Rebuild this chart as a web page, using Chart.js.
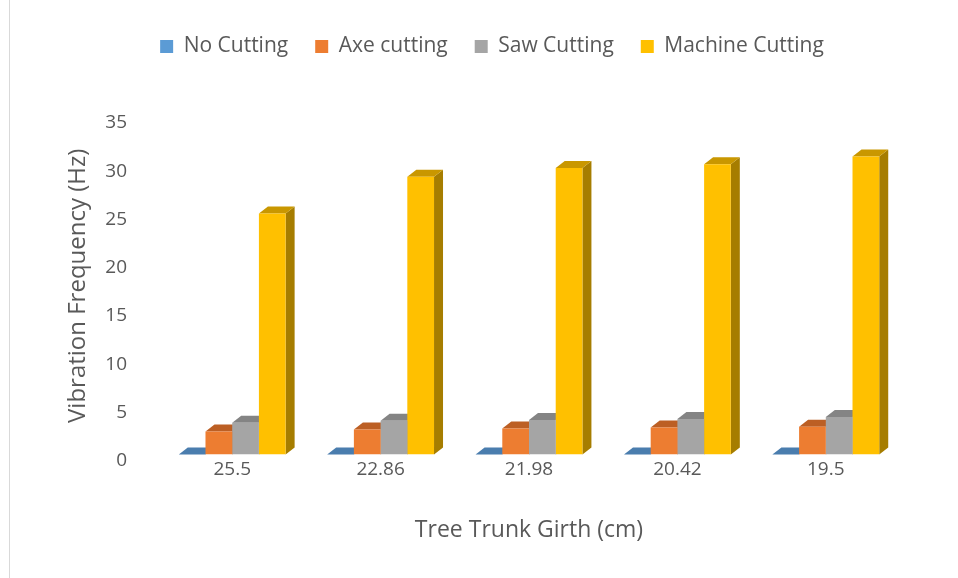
<!DOCTYPE html>
<html>
<head>
<meta charset="utf-8">
<script src="https://cdn.jsdelivr.net/npm/chart.js@4/dist/chart.umd.min.js"></script>
<style>
  html, body { margin: 0; padding: 0; background: #ffffff; }
  #wrap { position: relative; width: 958px; height: 578px; }
</style>
</head>
<body>
<div id="wrap"><canvas id="c" width="958" height="578"></canvas></div>
<script>
// ---- data ----
const categories = ['25.5', '22.86', '21.98', '20.42', '19.5'];
const seriesNames = ['No Cutting', 'Axe cutting', 'Saw Cutting', 'Machine Cutting'];
const noCutting = [0, 0, 0, 0, 0];
const axeCutting = [2.4, 2.6, 2.7, 2.8, 2.9];
const sawCutting = [3.3, 3.5, 3.6, 3.7, 3.9];
const machineCutting = [25.0, 28.8, 29.7, 30.1, 30.9];
const yTicks = [0, 5, 10, 15, 20, 25, 30, 35];

// ---- styles ----
const frontColors = ['#5B9BD5', '#ED7D31', '#A5A5A5', '#FFC000'];
const topColors   = ['#4A7DAE', '#BC5F24', '#848484', '#C99700'];
const sideColors  = ['#3E6B94', '#A3521D', '#737373', '#A67D00'];
const textColor = '#595959';
const FONT = "'Open Sans', sans-serif";
const DX = 9, DY = 7;

const bar3d = {
  id: 'bar3d',
  beforeDatasetsDraw(chart) {
    const ctx = chart.ctx;
    ctx.save();
    chart.data.datasets.forEach((ds, di) => {
      const meta = chart.getDatasetMeta(di);
      meta.data.forEach(el => {
        const l = el.x - el.width / 2, r = el.x + el.width / 2;
        const t = el.y, b = el.base;
        ctx.fillStyle = sideColors[di];
        ctx.beginPath();
        ctx.moveTo(r, t); ctx.lineTo(r + DX, t - DY);
        ctx.lineTo(r + DX, b - DY); ctx.lineTo(r, b);
        ctx.closePath(); ctx.fill();
        ctx.fillStyle = topColors[di];
        ctx.beginPath();
        ctx.moveTo(l, t); ctx.lineTo(l + DX, t - DY);
        ctx.lineTo(r + DX, t - DY); ctx.lineTo(r, t);
        ctx.closePath(); ctx.fill();
      });
    });
    ctx.restore();
  }
};

const legendTweak = {
  id: 'legendTweak',
  beforeLayout(chart) {
    const lg = chart.legend;
    if (!lg || lg._patched) return;
    const f = lg.fit;
    lg.fit = function () { f.call(this); this.height += 50; };
    const d = lg.draw;
    lg.draw = function () {
      const ctx = this.ctx;
      ctx.save();
      ctx.translate(13, 0);
      d.call(this);
      ctx.restore();
    };
    lg._patched = true;
  }
};

const frame = {
  id: 'frame',
  beforeDraw(chart) {
    const ctx = chart.ctx;
    ctx.save();
    ctx.strokeStyle = '#D9D9D9';
    ctx.lineWidth = 1;
    ctx.beginPath();
    ctx.moveTo(9.5, 0); ctx.lineTo(9.5, 578);
    ctx.stroke();
    ctx.restore();
  }
};

const seriesValues = [noCutting, axeCutting, sawCutting, machineCutting];

new Chart(document.getElementById('c'), {
  type: 'bar',
  data: {
    labels: categories,
    datasets: seriesNames.map((name, i) => ({
      label: name,
      data: seriesValues[i],
      backgroundColor: frontColors[i],
      borderWidth: 0,
      barPercentage: 1.0,
      categoryPercentage: 0.72
    }))
  },
  options: {
    responsive: false,
    animation: false,
    devicePixelRatio: 1,
    layout: { padding: { left: 58, right: 58, top: 9, bottom: 34 } },
    plugins: {
      tooltip: { enabled: false },
      legend: {
        position: 'top',
        labels: {
          boxWidth: 13, boxHeight: 13,
          padding: 27,
          color: textColor,
          font: { family: FONT, size: 21 }
        }
      }
    },
    scales: {
      x: {
        grid: { display: false },
        border: { display: false },
        ticks: { color: textColor, font: { family: FONT, size: 19 }, padding: -4 },
        title: {
          display: true, text: 'Tree Trunk Girth (cm)', color: textColor,
          font: { family: FONT, size: 23 }, padding: { top: 39, bottom: 0 }
        }
      },
      y: {
        min: 0, max: 35,
        grid: { display: false },
        border: { display: false },
        afterBuildTicks(scale) { scale.ticks = yTicks.map(v => ({ value: v })); },
        afterFit(scale) { scale.width = 100; },
        ticks: { color: textColor, font: { family: FONT, size: 19 }, padding: 23, labelOffset: 6 },
        title: {
          display: true, text: 'Vibration Frequency (Hz)', color: textColor,
          font: { family: FONT, size: 24 }, padding: { top: 6, bottom: 0 }
        }
      }
    }
  },
  plugins: [bar3d, legendTweak, frame]
});
</script>
</body>
</html>
